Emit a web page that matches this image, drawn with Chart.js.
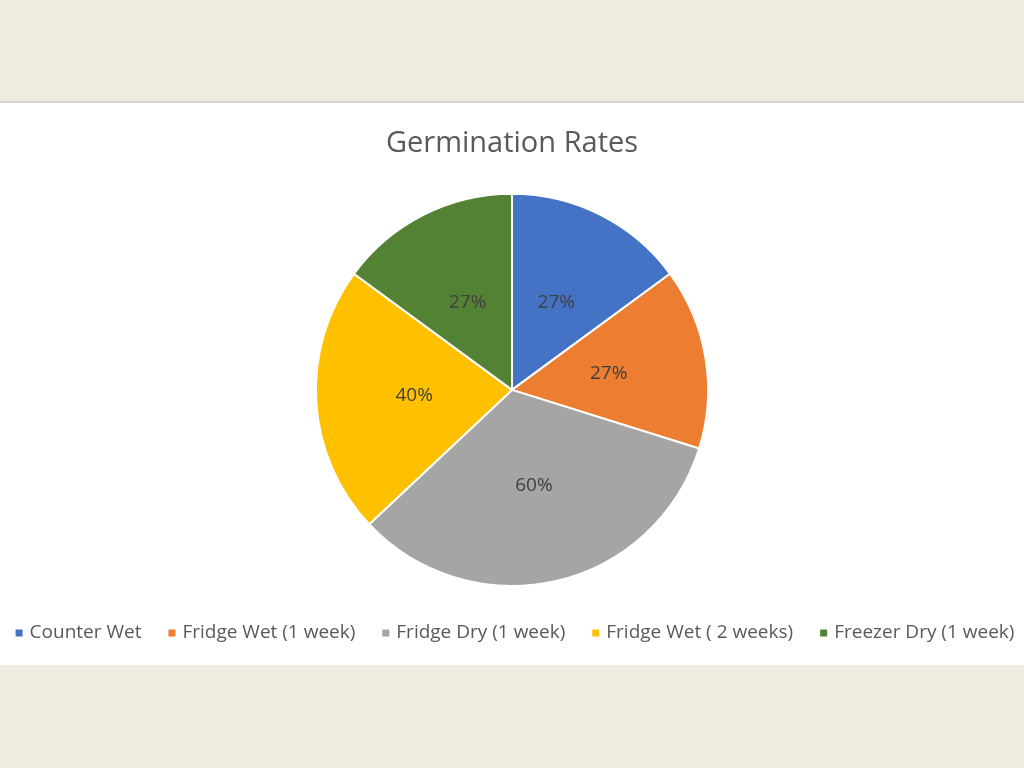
<!DOCTYPE html>
<html>
<head>
<meta charset="utf-8">
<script src="https://cdn.jsdelivr.net/npm/chart.js@4.4.0/dist/chart.umd.min.js"></script>
<style>
  html, body { margin: 0; padding: 0; }
  body { width: 1024px; height: 768px; background: #f0ebe0; position: relative; overflow: hidden; }
  #panel { position: absolute; left: 0; top: 101px; width: 1024px; height: 562px; background: #ffffff; border-top: 2px solid #d8d6d0; }
  #wrap { position: absolute; left: 0; top: 0; width: 1024px; height: 768px; }
</style>
</head>
<body>
<div id="panel"></div>
<div id="wrap"><canvas id="pie" width="1024" height="768"></canvas></div>
<script>
const labels = ['Counter Wet', 'Fridge Wet (1 week)', 'Fridge Dry (1 week)', 'Fridge Wet ( 2 weeks)', 'Freezer Dry (1 week)'];
const rates = [27, 27, 60, 40, 27];
const colors = ['#4472c4', '#ed7d31', '#a5a5a5', '#ffc000', '#548235'];

const FONT = '"Open Sans", "Noto Sans", sans-serif';

// percent labels in the middle of each slice
const sliceLabels = {
    id: 'sliceLabels',
    afterDatasetsDraw(chart) {
        const ctx = chart.ctx;
        const meta = chart.getDatasetMeta(0);
        ctx.save();
        ctx.font = '19px ' + FONT;
        ctx.fillStyle = '#404040';
        ctx.textAlign = 'center';
        ctx.textBaseline = 'middle';
        meta.data.forEach((arc, i) => {
            const p = arc.tooltipPosition();
            ctx.fillText(chart.data.datasets[0].data[i] + '%', p.x, p.y);
        });
        ctx.restore();
    }
};

// single-row legend under the pie
const legendRow = {
    id: 'legendRow',
    afterDraw(chart) {
        const ctx = chart.ctx;
        const ds = chart.data.datasets[0];
        const box = 7, boxGap = 7, gap = 27;
        ctx.save();
        ctx.font = '19px ' + FONT;
        ctx.textBaseline = 'middle';
        const widths = chart.data.labels.map(t => ctx.measureText(t).width);
        let total = widths.reduce((a, b) => a + b, 0) + widths.length * (box + boxGap) + gap * (widths.length - 1);
        let x = (chart.width - total) / 2 + 3;
        const y = 633;
        chart.data.labels.forEach((t, i) => {
            ctx.fillStyle = ds.backgroundColor[i];
            ctx.fillRect(x, y - box / 2, box, box);
            ctx.fillStyle = '#595959';
            ctx.fillText(t, x + box + boxGap, y);
            x += box + boxGap + widths[i] + gap;
        });
        ctx.restore();
    }
};

new Chart(document.getElementById('pie'), {
    type: 'pie',
    data: {
        labels: labels,
        datasets: [{
            data: rates,
            backgroundColor: colors,
            borderColor: '#ffffff',
            borderWidth: 2
        }]
    },
    options: {
        responsive: false,
        animation: false,
        layout: { padding: { top: 0, bottom: 181, left: 0, right: 0 } },
        plugins: {
            legend: { display: false },
            tooltip: { enabled: false },
            title: {
                display: true,
                text: 'Germination Rates',
                color: '#595959',
                font: { family: FONT, size: 29, weight: 'normal' },
                padding: { top: 126, bottom: 32 }
            }
        }
    },
    plugins: [sliceLabels, legendRow]
});
</script>
</body>
</html>
